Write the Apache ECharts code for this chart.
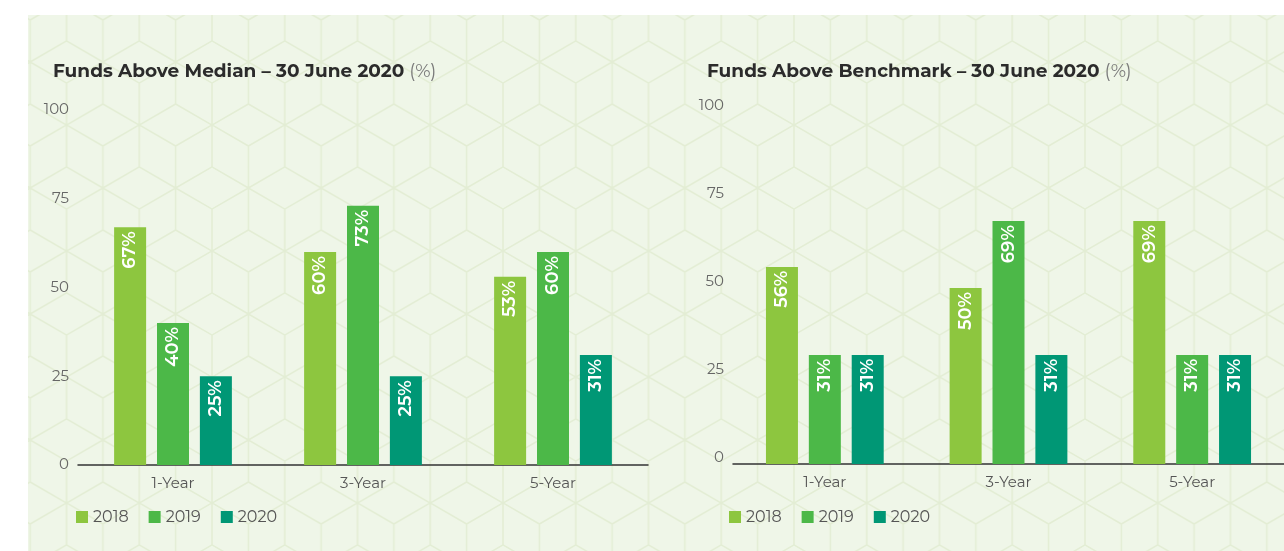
<!DOCTYPE html>
<html>
<head>
<meta charset="utf-8">
<script src="https://cdn.jsdelivr.net/npm/echarts@6/dist/echarts.min.js"></script>
<style>
  html, body { margin: 0; padding: 0; background: #fff; }
  #wrap { position: relative; width: 1284px; height: 551px; overflow: hidden; }
  #bg { position: absolute; left: 0; top: 0; }
  #chart { position: absolute; left: 0; top: 0; width: 1284px; height: 551px; }
</style>
</head>
<body>
<div id="wrap">
  <svg id="bg" width="1284" height="551"></svg>
  <div id="chart"></div>
</div>
<script>
// data
const periods = ['1-Year', '3-Year', '5-Year']
const years = ['2018', '2019', '2020']
const yTicks = [0, 25, 50, 75, 100]

const median2018 = [67, 60, 53]
const median2019 = [40, 73, 60]
const median2020 = [25, 25, 31]

const bench2018 = [56, 50, 69]
const bench2019 = [31, 69, 31]
const bench2020 = [31, 31, 31]

const colors = ['#8dc63f', '#4cb848', '#009775']

// hexagon (tumbling blocks) background
function drawBg() {
  const svg = document.getElementById('bg')
  const s = 42
  const w = Math.sqrt(3) * s
  const h = 3 * s
  let d = ''
  const centers = [[0, 0], [w, 0], [0, h], [w, h], [w / 2, h / 2]]
  centers.forEach(([cx, cy]) => {
    const top = [cx, cy - s], ur = [cx + w / 2, cy - s / 2], lr = [cx + w / 2, cy + s / 2]
    const bot = [cx, cy + s], ll = [cx - w / 2, cy + s / 2], ul = [cx - w / 2, cy - s / 2]
    d += `M${top} L${ur} L${lr} L${bot} L${ll} L${ul} Z `
    d += `M${cx},${cy} L${ul} M${cx},${cy} L${ur} M${cx},${cy} L${bot} `
  })
  svg.innerHTML =
    `<defs><pattern id="hex" patternUnits="userSpaceOnUse" x="503" y="83" width="${w}" height="${h}">` +
    `<path d="${d}" fill="none" stroke="#e3edd4" stroke-width="1.5"/></pattern></defs>` +
    `<rect x="28" y="15" width="1256" height="536" fill="#eff6e8"/>` +
    `<rect x="28" y="15" width="1256" height="536" fill="url(#hex)"/>`
}
drawBg()

const font = 'Montserrat, Inter, "Noto Sans", sans-serif'

function makeTitle(text, left) {
  return {
    text: '{b|' + text + '} {n|(%)}',
    left: left,
    top: 62,
    padding: 0,
    textStyle: {
      rich: {
        b: { fontFamily: font, fontWeight: 'bold', fontSize: 18.5, color: '#2b2b2b' },
        n: { fontFamily: font, fontWeight: 'normal', fontSize: 18.5, color: '#7a7a7a' }
      }
    }
  }
}

function makeLegend(left) {
  return {
    data: years,
    left: left,
    top: 509,
    padding: 0,
    itemWidth: 12,
    itemHeight: 12,
    itemGap: 20,
    icon: 'rect',
    textStyle: { fontFamily: font, fontSize: 16, color: '#555' }
  }
}

function makeX(gridIndex) {
  return {
    type: 'category',
    gridIndex: gridIndex,
    data: periods,
    axisLine: { lineStyle: { color: '#333', width: 1.5 } },
    axisTick: { show: false },
    axisLabel: { fontFamily: font, fontSize: 15, color: '#555', margin: 11 }
  }
}

function makeY(gridIndex, valign, lh) {
  return {
    type: 'value',
    gridIndex: gridIndex,
    min: yTicks[0],
    max: yTicks[yTicks.length - 1],
    interval: 25,
    axisLine: { show: false },
    axisTick: { show: false },
    splitLine: { show: false },
    axisLabel: {
      fontFamily: font, fontSize: 15, color: '#666', margin: 9,
      verticalAlign: valign, lineHeight: lh
    }
  }
}

function makeBar(name, data, idx, gridIndex) {
  return {
    name: name,
    type: 'bar',
    xAxisIndex: gridIndex,
    yAxisIndex: gridIndex,
    data: data,
    barWidth: 32,
    barGap: '34%',
    itemStyle: { color: colors[idx] },
    label: {
      show: true,
      position: 'insideTop',
      rotate: 90,
      align: 'right',
      verticalAlign: 'middle',
      distance: 4,
      formatter: '{c}%',
      fontFamily: font,
      fontWeight: 600,
      fontSize: 18,
      color: '#fff'
    }
  }
}

const chart = echarts.init(document.getElementById('chart'))
chart.setOption({
  animation: false,
  color: colors,
  title: [
    makeTitle('Funds Above Median – 30 June 2020', 53),
    makeTitle('Funds Above Benchmark – 30 June 2020', 707)
  ],
  legend: [makeLegend(76), makeLegend(729)],
  grid: [
    { left: 78, top: 110, width: 570, height: 355 },
    { left: 733, top: 112, width: 570, height: 352 }
  ],
  xAxis: [makeX(0), makeX(1)],
  yAxis: [makeY(0, 'middle', 15), makeY(1, 'bottom', 12)],
  series: [
    makeBar(years[0], median2018, 0, 0),
    makeBar(years[1], median2019, 1, 0),
    makeBar(years[2], median2020, 2, 0),
    makeBar(years[0], bench2018, 0, 1),
    makeBar(years[1], bench2019, 1, 1),
    makeBar(years[2], bench2020, 2, 1)
  ]
})
</script>
</body>
</html>
